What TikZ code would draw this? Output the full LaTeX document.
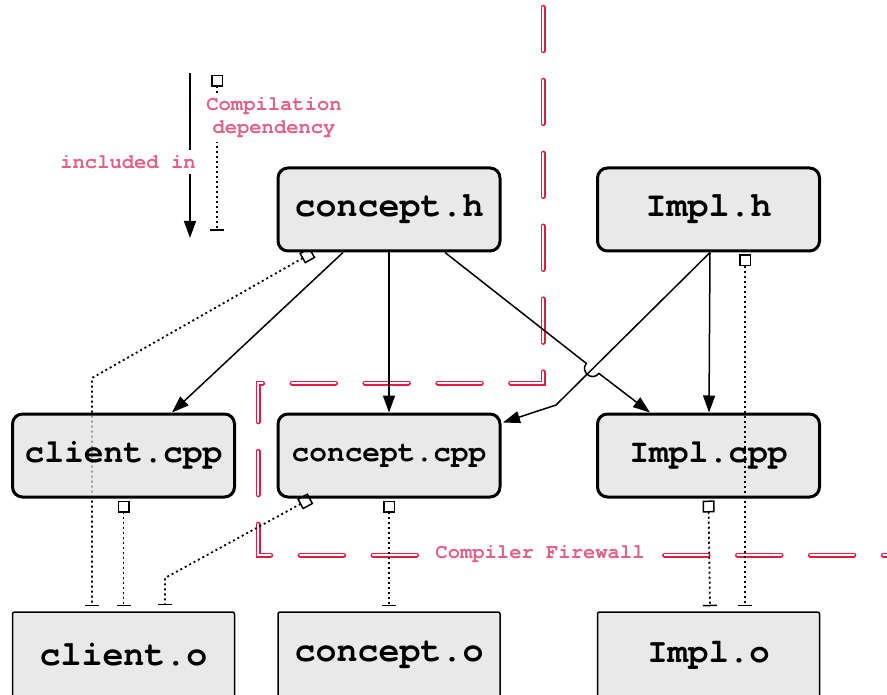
\documentclass[tikz,border=0pt]{standalone}
\usepackage{fontspec}
\setmonofont{TeX Gyre Cursor}
\usetikzlibrary{arrows.meta,backgrounds,calc}
\definecolor{boxfill}{HTML}{E9E9E9}
\definecolor{boxfillthin}{HTML}{DFDFDF}
\definecolor{notepink}{RGB}{224,96,134}
\definecolor{wallred}{RGB}{220,30,70}
\tikzset{
  filebox/.style={draw, line width=3pt, rounded corners=10pt, fill=boxfill,
    minimum width=222pt, minimum height=83pt, inner sep=0pt,
    font=\ttfamily\bfseries\fontsize{35}{40}\selectfont},
  objbox/.style={draw, line width=1.5pt, rounded corners=2pt, fill=boxfill,
    minimum width=222pt, minimum height=86pt, inner sep=0pt,
    font=\ttfamily\bfseries\fontsize{35}{40}\selectfont},
  incl/.style={line width=1.5pt, -{Triangle[length=17pt,width=12pt]}},
  dep/.style={line width=1.8pt, dash pattern=on 2pt off 3pt,
    {Square[open,length=12pt,width=12pt,line width=1.5pt]}-{Bar[width=14pt,line width=1.5pt]}},
  note/.style={text=notepink, font=\ttfamily\bfseries\fontsize{20.5}{23}\selectfont,
    fill=white, inner xsep=3pt, inner ysep=5pt, align=center},
  wall/.style={draw=wallred, line width=1.4pt, double=white, double distance=2.2pt,
    line cap=round, dash pattern=on 43.5pt off 29.4pt}
}
\begin{document}
\begin{tikzpicture}[x=1pt, y=-1pt]
\useasboundingbox (0,0) rectangle (887,695);

% compiler firewall boundary
\coordinate (w0) at (543,7.3);
\coordinate (w1) at (543,383);
\coordinate (w2) at (258,383);
\coordinate (w3) at (258,555);
\coordinate (w4) at (900,555);
\draw[wall] (w0) -- (w1) -- (w2) -- (w3) -- (w4);
\node[note, inner xsep=8pt] (fwl) at (540,554) {Compiler Firewall};

% headers
\node[filebox] (ch) at (389,209.5) {concept.h};
\node[filebox] (ih) at (708.5,209.5) {Impl.h};
% sources
\node[filebox, fill=boxfillthin, fill opacity=0.7, text opacity=1, draw opacity=1,
      font=\ttfamily\bfseries\fontsize{33}{38}\selectfont] (cc) at (123.5,455.5) {client.cpp};
\node[filebox, font=\ttfamily\bfseries\fontsize{29.5}{34}\selectfont] (kc) at (389,455.5) {concept.cpp};
\node[filebox, font=\ttfamily\bfseries\fontsize{33}{38}\selectfont] (ic) at (708.5,455.5) {Impl.cpp};
% objects
\node[objbox] (co) at (123.5,655) {client.o};
\node[objbox] (ko) at (389,655) {concept.o};
\node[objbox, font=\ttfamily\bfseries\fontsize{34}{39}\selectfont] (io) at (708.5,655) {Impl.o};

% dependency of client.o on concept.h, passing behind client.cpp
\coordinate (b1) at (92,378);
\begin{scope}[on background layer]
\draw[dep] ([xshift=36pt]ch.south west) -- (b1) -- ([xshift=-31.5pt,yshift=5pt]co.north);
\end{scope}

% include relations
\draw[incl] ([xshift=-46pt]ch.south) -- ([xshift=48.5pt]cc.north);
\draw[incl] (ch.south) -- (kc.north);
\coordinate (j1) at (586.3,363.4);
\coordinate (j2) at (598.9,373.4);
\draw[incl] ([xshift=56pt]ch.south) -- (j1)
   .. controls ($(j1)+(-6.6,8.4)$) and ($(j2)+(-6.6,8.4)$) .. (j2)
   -- ([xshift=-58.5pt]ic.north);
\draw[incl] ([xshift=1.5pt]ih.south) -- ([xshift=0.5pt]ic.north);
\coordinate (bB) at (556,405);
\draw[incl] ([xshift=1.5pt]ih.south) -- (bB) -- ([xshift=1.5pt,yshift=33pt]kc.east);

% compilation dependencies
\draw[dep] ([yshift=-2pt]cc.south) -- ([yshift=5pt]co.north);
\coordinate (b2) at (165,578);
\draw[dep] ([xshift=34pt]kc.south west) -- (b2) -- ([xshift=41.5pt,yshift=6pt]co.north);
\draw[dep] ([yshift=-2pt]kc.south) -- ([yshift=5pt]ko.north);
\draw[dep] ([yshift=-2pt]ic.south) -- ([xshift=1.5pt,yshift=5pt]io.north);
\draw[dep] ([xshift=36.5pt,yshift=-2pt]ih.south) -- ([xshift=36.5pt,yshift=5pt]io.north);

% legend
\coordinate (inA) at (190,73);
\coordinate (inB) at (190,238);
\draw[incl] (inA) -- (inB);
\node[note] (inl) at (128,162) {included in};
\coordinate (cdA) at (217,75);
\coordinate (cdB) at (217,231);
\draw[dep] (cdA) -- (cdB);
\node[note, inner ysep=4pt] (cdl) at (274,118) {Compilation\\dependency};
\end{tikzpicture}
\end{document}
